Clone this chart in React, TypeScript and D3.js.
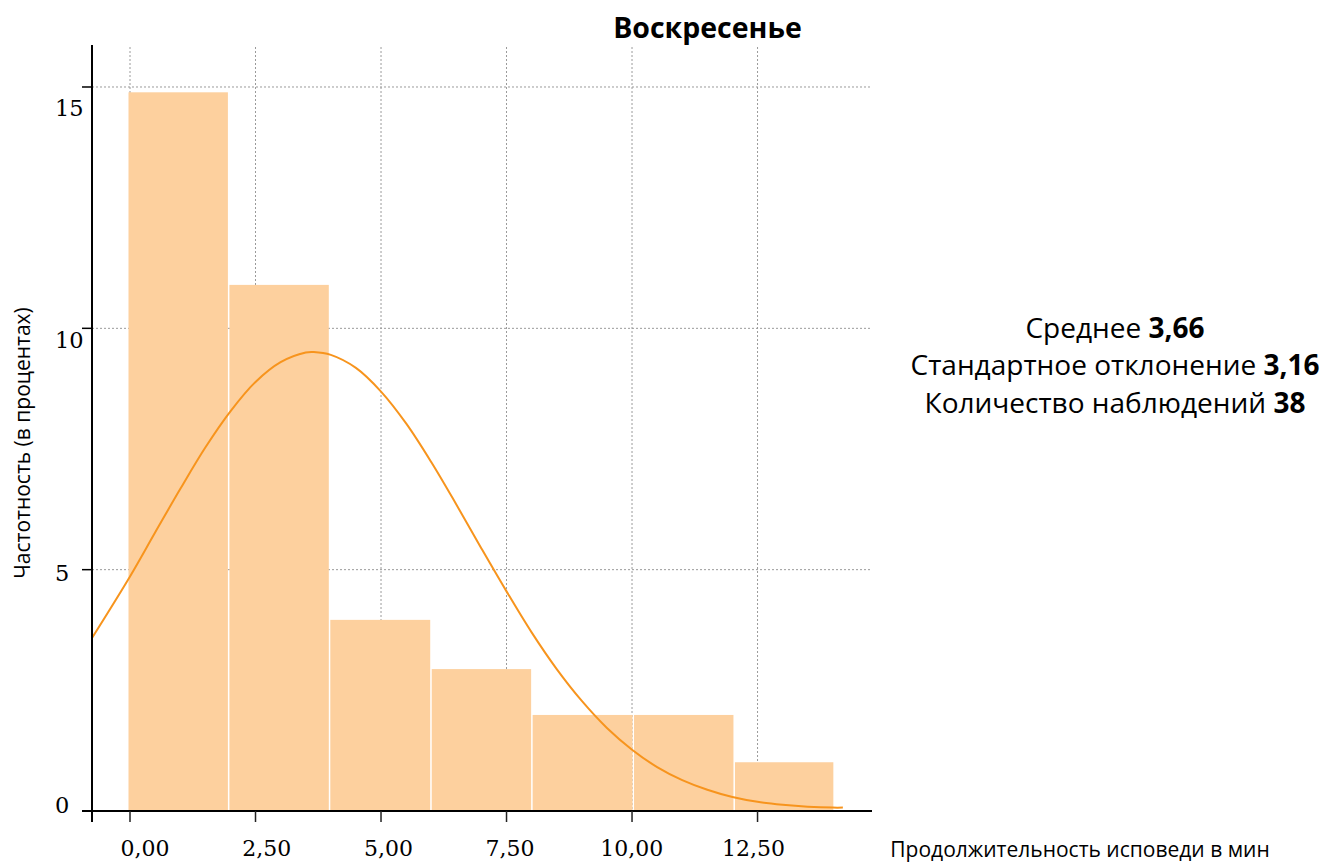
import React from "react";
import * as d3 from "d3";

// ---- data ----
const binEdges = [-0.04, 1.97, 3.98, 6.0, 8.01, 10.03, 12.04, 14.03];
const binValues = [14.89, 10.9, 3.96, 2.94, 1.99, 1.99, 1.01];

const curveX = [-0.76, 0, 0.5, 1, 1.5, 2, 2.5, 3, 3.5, 3.66, 4, 4.5, 5, 5.5, 6, 6.5, 7, 7.5, 8, 8.5, 9, 9.5, 10, 10.5, 11, 11.5, 12, 12.5, 13, 13.5, 14, 14.2];
const curveY = [3.58, 4.86, 5.77, 6.67, 7.53, 8.28, 8.89, 9.3, 9.5, 9.51, 9.45, 9.18, 8.69, 8.03, 7.23, 6.35, 5.44, 4.55, 3.7, 2.94, 2.28, 1.72, 1.27, 0.91, 0.64, 0.44, 0.29, 0.19, 0.13, 0.09, 0.07, 0.07];

const xTicks = [0, 2.5, 5, 7.5, 10, 12.5];
const xTickLabels = ["0,00", "2,50", "5,00", "7,50", "10,00", "12,50"];
const yTicks = [0, 5, 10, 15];
const yTickLabels = ["0", "5", "10", "15"];

const title = "Воскресенье";
const xTitle = "Продолжительность исповеди в мин";
const yTitle = "Частотность (в процентах)";
const statLabels = ["Среднее", "Стандартное отклонение", "Количество наблюдений"];
const statValues = ["3,66", "3,16", "38"];

const W = 1327;
const H = 862;
const sans = "'Open Sans', 'Noto Sans', sans-serif";
const serif = "'DejaVu Serif', serif";

export default function App() {
  const x = d3.scaleLinear().domain([-0.757, 14.78]).range([92, 872]);
  const y = d3.scaleLinear().domain([0, 15.87]).range([811, 45]);
  const xLabelPos = d3.scaleLinear().domain([0, 12.5]).range([145, 753.5]);
  const yLabelPos = d3.scaleLinear().domain([0, 15]).range([805, 107.5]);

  const line = d3
    .line<number>()
    .x((_, i) => x(curveX[i]))
    .y((_, i) => y(curveY[i]))
    .curve(d3.curveCatmullRom);

  const bars = binValues.map((v, i) => ({ x0: binEdges[i], x1: binEdges[i + 1], v }));

  return (
    <svg
      width={W}
      height={H}
      style={{ position: "absolute", left: 0, top: 0, background: "#fff" }}
    >
      {/* grid */}
      {xTicks.map((t) => (
        <line key={"gx" + t} x1={x(t)} x2={x(t)} y1={47} y2={y(0)} stroke="#9a9a9a" strokeWidth={1} strokeDasharray="2,2" />
      ))}
      {yTicks.filter((t) => t > 0).map((t) => (
        <line key={"gy" + t} x1={x.range()[0]} x2={871} y1={y(t)} y2={y(t)} stroke="#9a9a9a" strokeWidth={1} strokeDasharray="2,2" />
      ))}

      {/* bars */}
      {bars.map((b, i) => (
        <rect
          key={"b" + i}
          x={x(b.x0) + 0.5}
          width={x(b.x1) - x(b.x0) - 1.5}
          y={y(b.v)}
          height={y(0) - y(b.v)}
          fill="#fdd09e"
        />
      ))}

      {/* density curve */}
      <path d={line(curveX) || ""} fill="none" stroke="#f7941d" strokeWidth={2} />

      {/* axes */}
      <line x1={x.range()[0]} x2={x.range()[0]} y1={45} y2={822} stroke="#000" strokeWidth={2} />
      <line x1={82} x2={872} y1={y(0)} y2={y(0)} stroke="#000" strokeWidth={2} />
      {yTicks.map((t) => (
        <line key={"ty" + t} x1={82} x2={92} y1={y(t)} y2={y(t)} stroke="#000" strokeWidth={1.5} />
      ))}
      {xTicks.map((t) => (
        <line key={"tx" + t} x1={x(t)} x2={x(t)} y1={y(0)} y2={822} stroke="#222" strokeWidth={1.5} />
      ))}

      {/* tick labels */}
      {xTicks.map((t, i) => (
        <text key={"lx" + t} x={xLabelPos(t)} y={856} textAnchor="middle" fontFamily={serif} fontSize={22} fill="#000">
          {xTickLabels[i]}
        </text>
      ))}
      {yTicks.map((t, i) => (
        <text key={"ly" + t} x={55} y={yLabelPos(t)} dy="0.36em" textAnchor="start" fontFamily={serif} fontSize={22.5} fill="#000">
          {yTickLabels[i]}
        </text>
      ))}

      {/* titles */}
      <text x={707.5} y={38} textAnchor="middle" fontFamily={sans} fontWeight={700} fontSize={28.5} fill="#000">
        {title}
      </text>
      <text x={1080} y={857} textAnchor="middle" fontFamily={sans} fontSize={21} fill="#000">
        {xTitle}
      </text>
      <text transform="translate(30,443) rotate(-90)" textAnchor="middle" fontFamily={sans} fontSize={21} fill="#000">
        {yTitle}
      </text>

      {/* stats */}
      {statLabels.map((s, i) => (
        <text key={"s" + i} x={1115} y={337.5 + i * 37.5} textAnchor="middle" fontFamily={sans} fontSize={28} fill="#000">
          {s + " "}
          <tspan fontWeight={700}>{statValues[i]}</tspan>
        </text>
      ))}
    </svg>
  );
}
